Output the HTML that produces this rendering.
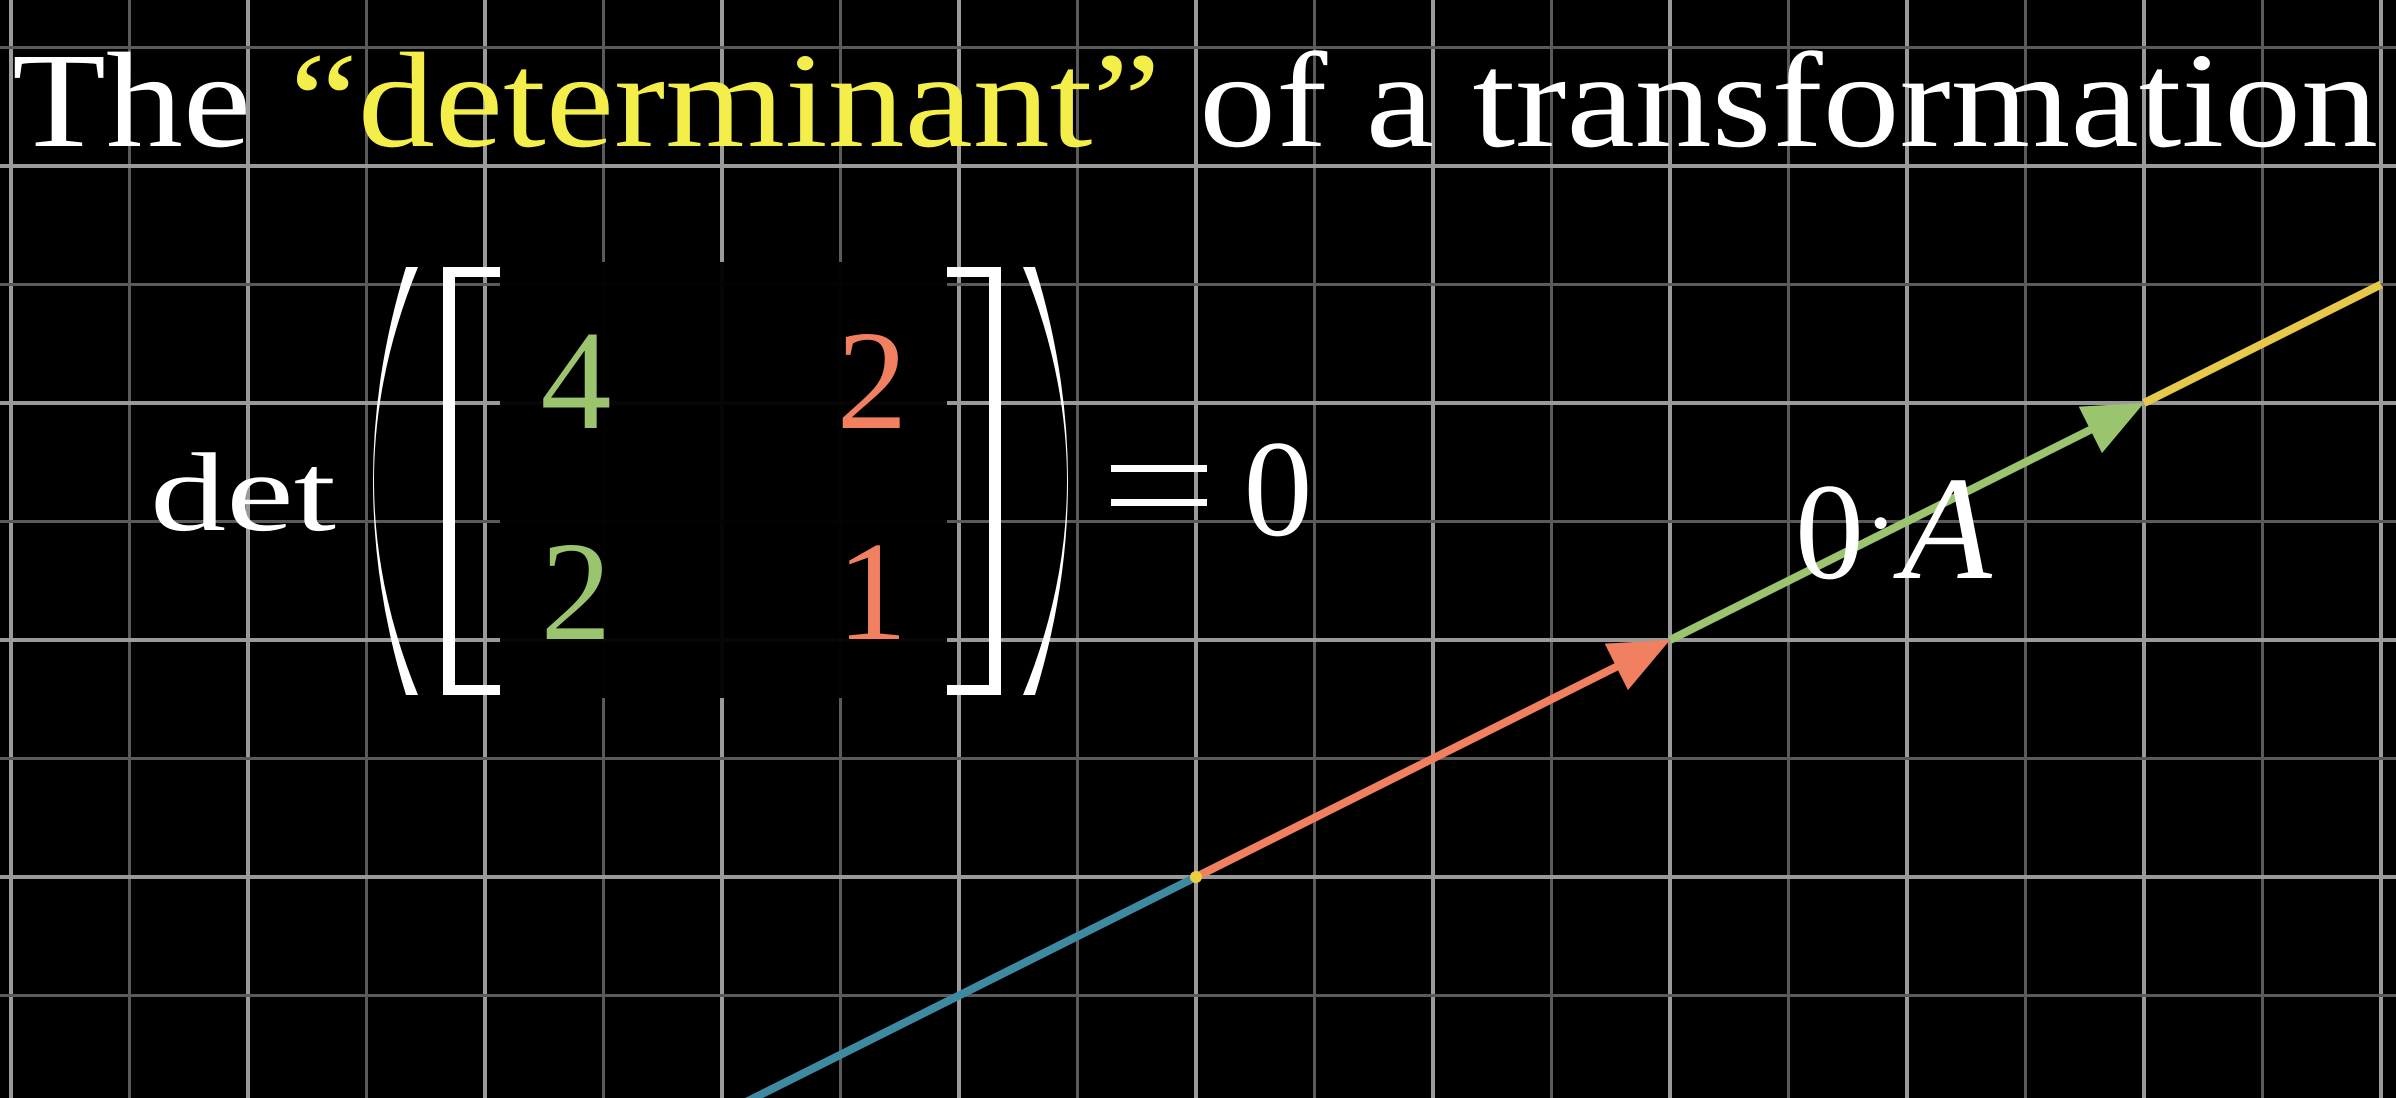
<!DOCTYPE html>
<html><head><meta charset="utf-8"><style>
html,body{margin:0;padding:0;background:#000;}
svg{display:block;}
text{font-family:"Liberation Serif",serif;}
</style></head><body>
<svg id="chart" width="2396" height="1098" viewBox="0 0 2396 1098" xmlns="http://www.w3.org/2000/svg">
<rect width="2396" height="1098" fill="#000"/>
<g id="grid"></g>
<rect x="500" y="262" width="447" height="436" fill="#000" opacity="0.96"/>
<g id="vectors"></g>
<text x="12" y="146" font-size="136" textLength="2366" lengthAdjust="spacingAndGlyphs" fill="#fff">The <tspan fill="#f4ee4a">“determinant”</tspan> of a transformation</text>
<text x="150" y="530" font-size="112" textLength="186" lengthAdjust="spacingAndGlyphs" fill="#fff">det</text>
<path d="M418,267 Q330,481 418,695 L406,695 Q340,481 406,267 Z" fill="#fff"/>
<path d="M1023,267 Q1111,481 1023,695 L1035,695 Q1101,481 1035,267 Z" fill="#fff"/>
<path d="M500,267 H443 V695 H500 V685 H455 V277 H500 Z" fill="#fff"/>
<path d="M947,267 H1001 V695 H947 V685 H989 V277 H947 Z" fill="#fff"/>
<text x="576" y="428" font-size="142" text-anchor="middle" fill="#9bc46f">4</text>
<text x="872" y="428" font-size="142" text-anchor="middle" fill="#f08060">2</text>
<text x="576" y="639" font-size="142" text-anchor="middle" fill="#9bc46f">2</text>
<text x="872" y="639" font-size="142" text-anchor="middle" fill="#f08060">1</text>
<rect x="1111" y="465" width="96" height="7" fill="#fff"/>
<rect x="1111" y="499" width="96" height="7" fill="#fff"/>
<text x="1278" y="535" font-size="138" text-anchor="middle" fill="#fff">0</text>
<text x="1795" y="578" font-size="138" fill="#fff">0<tspan font-size="100" dy="-22">·</tspan><tspan dy="22" dx="4" font-size="148" font-style="italic">A</tspan></text>
</svg>
<script>
const gridUnitsX = [-5,-4.5,-4,-3.5,-3,-2.5,-2,-1.5,-1,-0.5,0,0.5,1,1.5,2,2.5,3,3.5,4,4.5,5];
const gridUnitsY = [-1,-0.5,0,0.5,1,1.5,2,2.5,3,3.5,4];
const lineSpan = [-2, 5];
const vec1 = [2, 1];
const vec2 = [2, 1];
const ox = 1196, oy = 877, unit = 237;
const sx = v => ox + v * unit;
const sy = v => oy - v * unit;
const NS = 'http://www.w3.org/2000/svg';
const grid = document.getElementById('grid');
function ln(x1,y1,x2,y2,stroke,w,parent){const l=document.createElementNS(NS,'line');l.setAttribute('x1',x1);l.setAttribute('y1',y1);l.setAttribute('x2',x2);l.setAttribute('y2',y2);l.setAttribute('stroke',stroke);l.setAttribute('stroke-width',w);parent.appendChild(l);return l;}
gridUnitsX.forEach(u=>{const major=Number.isInteger(u);const l=ln(sx(u),0,sx(u),1098,major?'#9a9a9a':'#5a5a5a',major?4:3,grid);

});
gridUnitsY.forEach(u=>{const major=Number.isInteger(u);const l=ln(0,sy(u),2396,sy(u),major?'#9a9a9a':'#5a5a5a',major?4:3,grid);

});
const vg = document.getElementById('vectors');
const dir = [vec1[0], vec1[1]];
const tip1 = [vec1[0], vec1[1]];
const tip2 = [vec1[0]+vec2[0], vec1[1]+vec2[1]];
const k = dir[1]/dir[0];
const a = ln(sx(lineSpan[0]),sy(lineSpan[0]*k),ox,oy,'#3e8aa0',8,vg);


const b = ln(sx(tip2[0]),sy(tip2[1]),sx(lineSpan[1]),sy(lineSpan[1]*k),'#e8c84a',8,vg);


function arrow(from,to,color,name){
  const x1=sx(from[0]),y1=sy(from[1]),x2=sx(to[0]),y2=sy(to[1]);
  const dx=x2-x1,dy=y2-y1,L=Math.hypot(dx,dy),ux=dx/L,uy=dy/L,hl=60,hw=26;
  const l=ln(x1,y1,x2-ux*hl*0.8,y2-uy*hl*0.8,color,8,vg);
  
  
  const bx=x2-ux*hl,by=y2-uy*hl;
  const p=document.createElementNS(NS,'polygon');
  p.setAttribute('points',`${x2},${y2} ${bx-uy*hw},${by+ux*hw} ${bx+uy*hw},${by-ux*hw}`);
  p.setAttribute('fill',color);
  
  
  vg.appendChild(p);
}
arrow([0,0],tip1,'#f08060','j-hat-vector');
arrow(tip1,tip2,'#9bc46f','i-hat-vector');
const dot=document.createElementNS(NS,'circle');
dot.setAttribute('cx',ox);dot.setAttribute('cy',oy);dot.setAttribute('r',6);dot.setAttribute('fill','#e8d040');


vg.appendChild(dot);
</script>
</body></html>
